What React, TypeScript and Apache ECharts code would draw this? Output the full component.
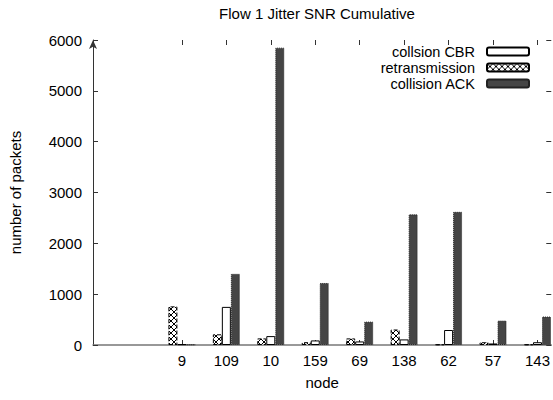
import React, { useEffect, useRef } from "react";
import * as echarts from "echarts";

const title = "Flow 1 Jitter SNR Cumulative";
const categories = ["9", "109", "10", "159", "69", "138", "62", "57", "143"];
const collisionCBR = [15, 750, 175, 90, 70, 110, 295, 30, 55];
const retransmission = [760, 210, 130, 55, 130, 305, 10, 55, 10];
const collisionACK = [10, 1400, 5850, 1220, 460, 2570, 2620, 480, 560];
const yMax = 6000;
const yStep = 1000;

function makePattern() {
  const c = document.createElement("canvas");
  c.width = 6;
  c.height = 6;
  const ctx = c.getContext("2d")!;
  ctx.fillStyle = "#ffffff";
  ctx.fillRect(0, 0, 6, 6);
  ctx.strokeStyle = "#000000";
  ctx.lineWidth = 1;
  ctx.beginPath();
  ctx.moveTo(0, 0);
  ctx.lineTo(6, 6);
  ctx.moveTo(6, 0);
  ctx.lineTo(0, 6);
  ctx.stroke();
  return { image: c.toDataURL(), repeat: "repeat", imageWidth: 6, imageHeight: 6 } as any;
}

export default function App() {
  const ref = useRef<HTMLDivElement>(null);
  useEffect(() => {
    if (!ref.current) return;
    const chart = echarts.init(ref.current, null, { renderer: "svg" });
    const idx = categories.map((_, i) => i);
    const font = "'Liberation Sans', Arial, sans-serif";
    const fs = 15;
    const pattern = makePattern();
    chart.setOption({
      animation: false,
      textStyle: { fontFamily: font },
      graphic: [
        {
          type: "text",
          x: 317,
          y: 13,
          style: {
            text: title,
            font: `${fs}px ${font}`,
            fill: "#000",
            textAlign: "center",
            textVerticalAlign: "middle",
          },
        },
      ],
      legend: {
        orient: "vertical",
        right: 23,
        top: 44,
        padding: 0,
        align: "right",
        itemWidth: 42,
        itemHeight: 8,
        itemGap: 1,
        data: ["collsion CBR", "retransmission", "collision ACK"],
        textStyle: { fontFamily: font, fontSize: 14.5, lineHeight: 14, color: "#000", padding: [0, 7, 0, 0] },
      },
      grid: { left: 93, right: 1, top: 40, bottom: 55 },
      xAxis: [
        {
          type: "value",
          min: -2,
          max: 8.31,
          interval: 1,
          name: "node",
          nameLocation: "middle",
          nameGap: 30,
          nameTextStyle: { fontFamily: font, fontSize: fs, color: "#000" },
          axisLine: { show: true, onZero: false, lineStyle: { color: "#777", width: 1.5 } },
          axisTick: { show: true, inside: true, length: 5, customValues: idx, lineStyle: { color: "#333" } },
          axisLabel: {
            customValues: idx,
            formatter: (v: number) => categories[Math.round(v)] ?? "",
            fontFamily: font,
            fontSize: fs,
            color: "#000",
            margin: 8,
          },
          splitLine: { show: false },
        },
        {
          type: "value",
          position: "top",
          min: -2,
          max: 8.31,
          interval: 1,
          axisLine: { show: false, onZero: false },
          axisTick: { show: true, inside: true, length: 5, customValues: idx, lineStyle: { color: "#333" } },
          axisLabel: { show: false },
          splitLine: { show: false },
        },
      ],
      yAxis: [
        {
          type: "value",
          min: 0,
          max: yMax,
          interval: yStep,
          name: "number of packets",
          nameLocation: "middle",
          nameGap: 70,
          nameTextStyle: { fontFamily: font, fontSize: fs, color: "#000" },
          axisLine: {
            show: true,
            onZero: false,
            symbol: ["none", "arrow"],
            symbolSize: [6, 9],
            lineStyle: { color: "#333", width: 1 },
          },
          axisTick: { show: true, inside: true, length: 5, lineStyle: { color: "#333" } },
          axisLabel: {
            fontFamily: font,
            fontSize: fs,
            color: "#000",
            margin: 11,
            formatter: (v: number) => String(v),
          },
          splitLine: { show: false },
        },
        {
          type: "value",
          position: "right",
          min: 0,
          max: yMax,
          interval: yStep,
          axisLine: { show: false, onZero: false },
          axisTick: { show: true, inside: true, length: 5, lineStyle: { color: "#333" } },
          axisLabel: { show: false },
          splitLine: { show: false },
        },
      ],
      series: [
        {
          name: "retransmission",
          type: "bar",
          barWidth: 9,
          barGap: "0%",
          data: retransmission.map((v, i) => [i, v]),
          itemStyle: { color: pattern, borderColor: "#000", borderWidth: 1, borderType: "dashed" },
        },
        {
          name: "collsion CBR",
          type: "bar",
          barWidth: 9,
          barGap: "0%",
          data: collisionCBR.map((v, i) => [i, v]),
          itemStyle: { color: "#ffffff", borderColor: "#000", borderWidth: 1 },
        },
        {
          name: "collision ACK",
          type: "bar",
          barWidth: 9,
          barGap: "0%",
          data: collisionACK.map((v, i) => [i, v]),
          itemStyle: { color: "#454545", borderColor: "#222", borderWidth: 1, borderType: "dotted" },
        },
      ],
    });
    return () => chart.dispose();
  }, []);
  return (
    <div
      ref={ref}
      style={{ position: "fixed", left: 0, top: 0, width: 553, height: 400, background: "#fff" }}
    />
  );
}
